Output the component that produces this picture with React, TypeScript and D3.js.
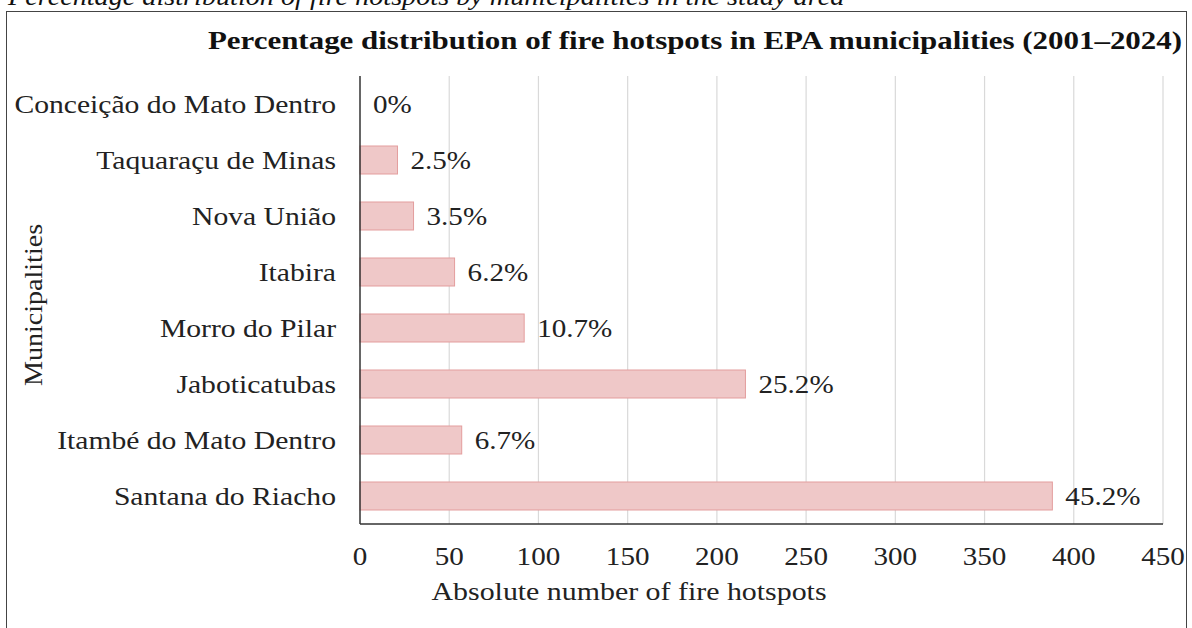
import React from 'react'
import * as d3 from 'd3'

// values
const municipalities = [
  'Conceição do Mato Dentro',
  'Taquaraçu de Minas',
  'Nova União',
  'Itabira',
  'Morro do Pilar',
  'Jaboticatubas',
  'Itambé do Mato Dentro',
  'Santana do Riacho',
]
const hotspots = [0, 21, 30, 53, 92, 216, 57, 388]
const percentLabels = ['0%', '2.5%', '3.5%', '6.2%', '10.7%', '25.2%', '6.7%', '45.2%']
const xTicks = [0, 50, 100, 150, 200, 250, 300, 350, 400, 450]

const W = 1192
const H = 628
const FONT = '"Liberation Serif", "Times New Roman", serif'

// the source font is a bit wider than Times, so stretch text horizontally
function Label({ x, y, sx = 1.12, anchor = 'start', size = 26, children, ...rest }: any) {
  return (
    <text transform={`translate(${x},${y}) scale(${sx},1)`} textAnchor={anchor} fontSize={size}
      fill="#222" {...rest}>
      {children}
    </text>
  )
}

export default function App() {
  const left = 360, right = 1163, top = 76, bottom = 524

  const x = d3.scaleLinear().domain([0, 450]).range([left, right])
  const y = d3.scaleBand().domain(municipalities).range([top, bottom]).paddingInner(0.5).paddingOuter(0.25)
  const mid = (m: string) => y(m)! + y.bandwidth() / 2

  return (
    <svg width={W} height={H} style={{ position: 'absolute', left: 0, top: 0, background: '#fff' }}
      fontFamily={FONT}>
      {/* caption, cut off by the top edge */}
      <Label x={8} y={5} sx={1.085} fontStyle="italic" fill="#111">
        Percentage distribution of fire hotspots by municipalities in the study area
      </Label>
      <rect x={6.5} y={11.5} width={1180} height={640} fill="none" stroke="#444" strokeWidth={1} />

      <Label x={695} y={49} sx={1.19} anchor="middle" fontWeight="bold" fill="#111">
        Percentage distribution of fire hotspots in EPA municipalities (2001–2024)
      </Label>

      {/* grid */}
      {xTicks.filter(t => t > 0).map(t => (
        <line key={`g-${t}`} x1={x(t)} x2={x(t)} y1={top} y2={bottom} stroke="#d9d9d9" strokeWidth={1.2} />
      ))}

      {/* bars */}
      {municipalities.map((m, i) => (
        <rect key={`b-${i}`} x={x(0)} y={y(m)} width={x(hotspots[i]) - x(0)} height={y.bandwidth()}
          fill="#efc8c8" stroke="#e39d9d" strokeWidth={1} />
      ))}

      {/* value labels */}
      {municipalities.map((m, i) => (
        <Label key={`l-${i}`} x={x(hotspots[i]) + 13} y={mid(m) + 8.6}>
          {percentLabels[i]}
        </Label>
      ))}

      {/* axes */}
      <line x1={left} x2={left} y1={top} y2={bottom} stroke="#333" strokeWidth={1.5} />
      <line x1={left} x2={right} y1={bottom} y2={bottom} stroke="#333" strokeWidth={1.5} />

      {municipalities.map(m => (
        <Label key={`c-${m}`} x={left - 24} y={mid(m) + 8.6} sx={1.14} anchor="end">
          {m}
        </Label>
      ))}

      {xTicks.map(t => (
        <Label key={`t-${t}`} x={x(t)} y={565} anchor="middle">
          {t}
        </Label>
      ))}

      <Label x={629} y={600} sx={1.15} anchor="middle">
        Absolute number of fire hotspots
      </Label>
      <g transform="translate(42,305) rotate(-90)">
        <Label x={0} y={0} sx={1.08} anchor="middle">
          Municipalities
        </Label>
      </g>
    </svg>
  )
}
